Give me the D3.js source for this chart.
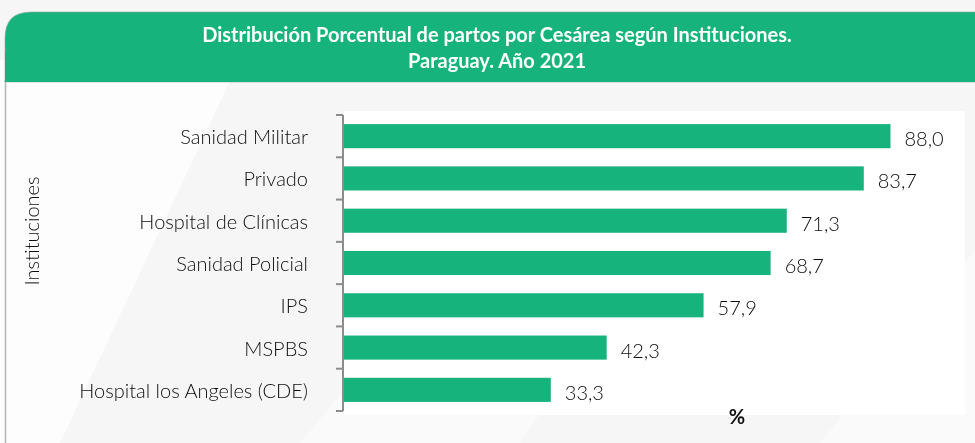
<!DOCTYPE html>
<html>
<head>
<meta charset="utf-8">
<script src="https://cdn.jsdelivr.net/npm/d3@7"></script>
<style>
  html, body { margin: 0; padding: 0; background: #f7f7f7; }
  svg { display: block; }
</style>
</head>
<body>
<div id="chart"></div>
<script>
const categories = [
  "Sanidad Militar",
  "Privado",
  "Hospital de Clínicas",
  "Sanidad Policial",
  "IPS",
  "MSPBS",
  "Hospital los Angeles (CDE)"
];
const values = [88.0, 83.7, 71.3, 68.7, 57.9, 42.3, 33.3];
const titleLines = [
  "Distribución Porcentual de partos por Cesárea según Instituciones.",
  "Paraguay. Año 2021"
];
const yAxisTitle = "Instituciones";
const xAxisTitle = "%";

const width = 975;
const height = 443;
const green = "#17b37c";
const font = "Lato, 'Open Sans', sans-serif";
const textColor = "#0d0d0d";
const fmt = (v) => d3.format(".1f")(v).replace(".", ",");

const svg = d3.select("#chart")
  .append("svg")
  .attr("width", width)
  .attr("height", height)
  .attr("viewBox", `0 0 ${width} ${height}`);

// soft background shapes
svg.append("rect").attr("width", width).attr("height", height).attr("fill", "#f6f6f6");
const bg = svg.append("g").attr("fill", "#ffffff").attr("opacity", 0.75);
bg.append("path").attr("d", "M0,60 L240,60 L60,443 L0,443 Z");
bg.append("path").attr("d", "M300,443 L520,180 L700,180 L520,443 Z").attr("opacity", 0.6);
bg.append("path").attr("d", "M820,443 L975,250 L975,443 Z").attr("opacity", 0.6);

// card left border
svg.append("line")
  .attr("x1", 5.5).attr("x2", 5.5)
  .attr("y1", 80).attr("y2", height)
  .attr("stroke", "#b5b5b5").attr("stroke-width", 1.5);

// header band
const hx = 5, hy = 12, hw = 985, hh = 70, r1 = 26, r2 = 12;
svg.append("path")
  .attr("d", `M${hx},${hy + hh} L${hx},${hy + r1} Q${hx},${hy} ${hx + r1},${hy}
    L${hx + hw - r2},${hy} Q${hx + hw},${hy} ${hx + hw},${hy + r2} L${hx + hw},${hy + hh} Z`)
  .attr("fill", green)
  .attr("stroke", "#9aa8a2").attr("stroke-width", 0.6);
svg.append("rect").attr("x", hx).attr("y", hy + 40).attr("width", hw).attr("height", hh - 40).attr("fill", green);

svg.append("g")
  .selectAll("text")
  .data(titleLines)
  .join("text")
  .attr("x", 497)
  .attr("y", (d, i) => 42 + i * 26)
  .attr("text-anchor", "middle")
  .attr("fill", "#ffffff")
  .attr("font-family", font)
  .attr("font-weight", 700)
  .attr("font-size", 20)
  .text((d) => d);

// plot
const margin = { left: 344, top: 115 };
const plotRight = 965;
const plotBottom = 411;

svg.append("rect")
  .attr("x", margin.left).attr("y", margin.top - 4)
  .attr("width", plotRight - margin.left).attr("height", plotBottom - margin.top + 8)
  .attr("fill", "#ffffff");

const x = d3.scaleLinear().domain([0, 100]).range([margin.left, plotRight]);
const y = d3.scaleBand().domain(categories).range([margin.top, plotBottom]).paddingInner(0).paddingOuter(0);
const barH = y.step() * 0.57;

svg.append("g")
  .selectAll("rect")
  .data(categories)
  .join("rect")
  .attr("x", x(0))
  .attr("y", (d) => y(d) + (y.step() - barH) / 2)
  .attr("width", (d, i) => x(values[i]) - x(0))
  .attr("height", barH)
  .attr("fill", green);

svg.append("g")
  .selectAll("text")
  .data(categories)
  .join("text")
  .attr("x", (d, i) => x(values[i]) + 14)
  .attr("y", (d) => y(d) + y.step() / 2 + 10)
  .attr("fill", textColor)
  .attr("font-family", font)
  .attr("font-weight", 300)
  .attr("font-size", 20)
  .text((d, i) => fmt(values[i]));

// category axis: line with ticks at band boundaries
const axis = svg.append("g").attr("stroke", "#8c8c8c").attr("stroke-width", 2);
axis.append("line")
  .attr("x1", margin.left - 1).attr("x2", margin.left - 1)
  .attr("y1", margin.top).attr("y2", plotBottom);
axis.selectAll("line.tick")
  .data(d3.range(categories.length + 1))
  .join("line")
  .attr("class", "tick")
  .attr("x1", margin.left - 8).attr("x2", margin.left - 1)
  .attr("y1", (i) => margin.top + i * y.step())
  .attr("y2", (i) => margin.top + i * y.step());

svg.append("g")
  .selectAll("text")
  .data(categories)
  .join("text")
  .attr("x", 308)
  .attr("y", (d) => y(d) + y.step() / 2 + 8)
  .attr("text-anchor", "end")
  .attr("fill", textColor)
  .attr("font-family", font)
  .attr("font-weight", 300)
  .attr("font-size", 20)
  .text((d) => d);

svg.append("text")
  .attr("transform", `translate(39, 231) rotate(-90)`)
  .attr("text-anchor", "middle")
  .attr("fill", textColor)
  .attr("font-family", font)
  .attr("font-weight", 300)
  .attr("font-size", 20)
  .text(yAxisTitle);

svg.append("text")
  .attr("x", 737)
  .attr("y", 424)
  .attr("text-anchor", "middle")
  .attr("fill", "#111")
  .attr("font-family", font)
  .attr("font-weight", 700)
  .attr("font-size", 20)
  .text(xAxisTitle);
</script>
</body>
</html>
